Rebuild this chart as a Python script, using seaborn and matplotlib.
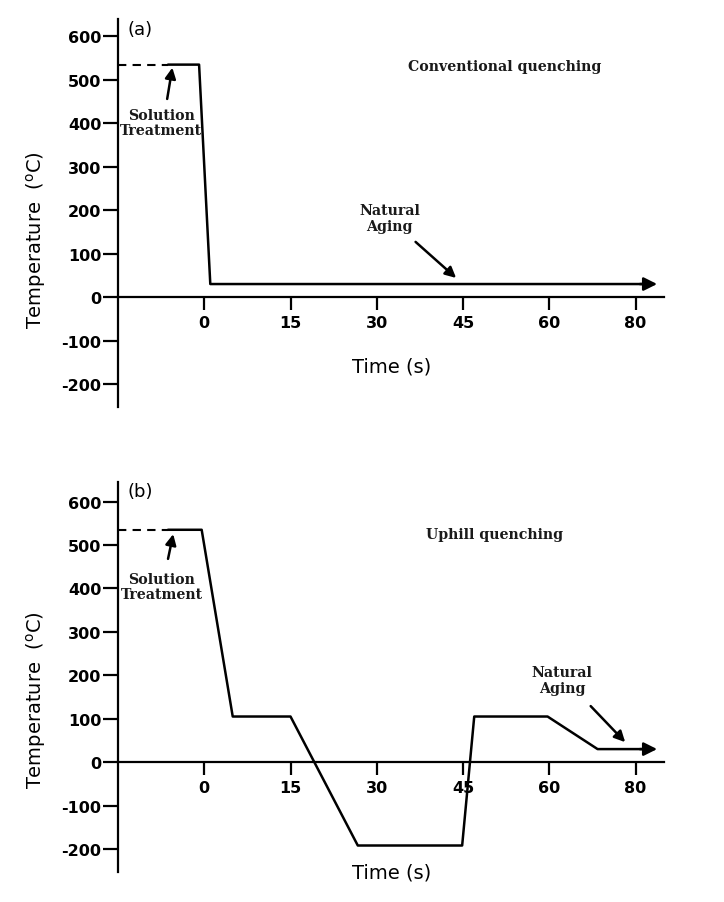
import matplotlib
matplotlib.use("Agg")
import matplotlib.pyplot as plt
import seaborn as sns

sns.set_theme(style="white")
plt.rcParams["font.family"] = ["DejaVu Sans"]
plt.rcParams["axes.unicode_minus"] = False
plt.rcParams["text.color"] = "black"

# ---- data (x in tick-position units; tick labels below) ----
tick_pos = [0, 1, 2, 3, 4, 5]
tick_labels = ["0", "15", "30", "45", "60", "80"]
y_ticks = [-200, -100, 0, 100, 200, 300, 400, 500, 600]

a_dash_x = [-1.0, -0.42]
a_dash_y = [535, 535]
a_x = [-0.42, -0.06, 0.07, 5.15]
a_y = [535, 535, 30, 30]

b_dash_x = [-1.0, -0.42]
b_dash_y = [535, 535]
b_x = [-0.42, -0.03, 0.33, 1.0, 1.78, 2.99, 3.13, 3.98, 4.56, 5.15]
b_y = [535, 535, 105, 105, -192, -192, 105, 105, 30, 30]

fig = plt.figure(figsize=(7.24, 9.03), dpi=100)
ax_a = fig.add_axes([118 / 724, 1 - 408 / 903, 546 / 724, 388 / 903])
ax_b = fig.add_axes([118 / 724, 1 - 873 / 903, 546 / 724, 390 / 903])

serif = dict(family="DejaVu Serif", fontweight="bold", fontsize=10.2, color="#1a1a1a")


def style_axes(ax, ylim):
    ax.set_xlim(-1, 5.33)
    ax.set_ylim(*ylim)
    ax.set_facecolor("white")
    for s in ["top", "right"]:
        ax.spines[s].set_visible(False)
    ax.spines["bottom"].set_position(("data", 0))
    for s in ["left", "bottom"]:
        ax.spines[s].set_linewidth(1.6)
        ax.spines[s].set_color("black")
    ax.set_xticks(tick_pos)
    ax.set_xticklabels(tick_labels)
    ax.set_yticks(y_ticks)
    ax.tick_params(axis="x", direction="out", length=9, width=1.6, pad=4,
                   labelsize=11.5, bottom=True, colors="black")
    ax.tick_params(axis="y", direction="out", length=11, width=1.6, pad=1,
                   labelsize=11.5, left=True, colors="black")
    for lab in ax.get_xticklabels() + ax.get_yticklabels():
        lab.set_fontweight("bold")
    ax.set_xlabel("")
    ax.set_ylabel("")
    ax.grid(False)


def draw_curve(ax, dx, dy, x, y):
    sns.lineplot(x=dx, y=dy, ax=ax, color="black", lw=1.5, sort=False,
                 estimator=None, dashes=False, linestyle=(0, (4, 3)))
    sns.lineplot(x=x, y=y, ax=ax, color="black", lw=1.8, sort=False,
                 estimator=None)
    ax.annotate("", xy=(x[-1] + 0.1, y[-1]), xytext=(x[-1] - 0.1, y[-1]),
                arrowprops=dict(arrowstyle="-|>", color="black", lw=1.8,
                                mutation_scale=20, shrinkA=0, shrinkB=0))


arrow_kw = dict(arrowstyle="-|>", color="black", lw=1.8, mutation_scale=16,
                shrinkA=0, shrinkB=0)

# ---- panel (a) ----
draw_curve(ax_a, a_dash_x, a_dash_y, a_x, a_y)
style_axes(ax_a, (-253, 640))
ax_a.text(-0.74, 617, "(a)", fontsize=13, ha="center", va="center")
ax_a.text(-0.5, 401, "Solution\nTreatment", ha="center", va="center",
          linespacing=1.1, **serif)
ax_a.annotate("", xy=(-0.37, 528), xytext=(-0.43, 456), arrowprops=arrow_kw)
ax_a.text(2.15, 182, "Natural\nAging", ha="center", va="center",
          linespacing=1.1, **serif)
ax_a.annotate("", xy=(2.92, 44), xytext=(2.45, 127), arrowprops=arrow_kw)
ax_a.text(3.48, 532, "Conventional quenching", ha="center", va="center", **serif)
ax_a.text(2.17, -159, "Time (s)", fontsize=14, ha="center", va="center")

# ---- panel (b) ----
draw_curve(ax_b, b_dash_x, b_dash_y, b_x, b_y)
style_axes(ax_b, (-253, 645))
ax_b.text(-0.74, 624, "(b)", fontsize=13, ha="center", va="center")
ax_b.text(-0.49, 405, "Solution\nTreatment", ha="center", va="center",
          linespacing=1.1, **serif)
ax_b.annotate("", xy=(-0.36, 525), xytext=(-0.42, 468), arrowprops=arrow_kw)
ax_b.text(3.37, 525, "Uphill quenching", ha="center", va="center", **serif)
ax_b.text(4.15, 189, "Natural\nAging", ha="center", va="center",
          linespacing=1.1, **serif)
ax_b.annotate("", xy=(4.88, 46), xytext=(4.48, 129), arrowprops=arrow_kw)
ax_b.text(2.17, -253, "Time (s)", fontsize=14, ha="center", va="center",
          clip_on=False)

# y-axis labels
fig.text(36 / 724, 1 - 240 / 903, "Temperature  ($^{\\mathrm{o}}$C)", rotation=90,
         ha="center", va="center", fontsize=14)
fig.text(36 / 724, 1 - 700 / 903, "Temperature  ($^{\\mathrm{o}}$C)", rotation=90,
         ha="center", va="center", fontsize=14)

fig.savefig("out.png", dpi=100, facecolor="white")
